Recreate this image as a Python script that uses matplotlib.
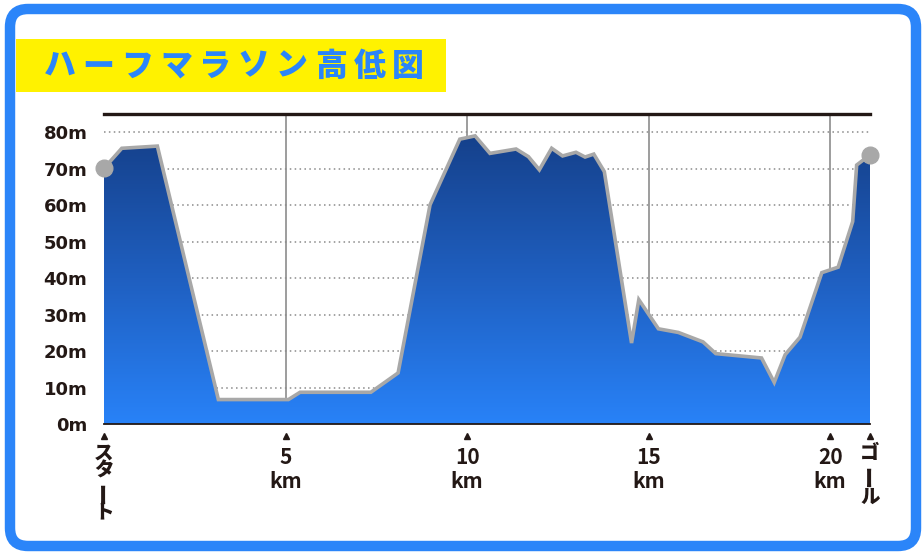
import numpy as np
import matplotlib
matplotlib.use('Agg')
import matplotlib.pyplot as plt
from matplotlib.patches import Polygon, FancyBboxPatch, Rectangle
from matplotlib.colors import LinearSegmentedColormap
from matplotlib.transforms import ScaledTranslation

# course profile
distance_km = [0.0, 0.49, 1.47, 3.15, 5.08, 5.40, 7.35, 8.10, 8.98, 9.80, 10.22,
               10.63, 11.35, 11.69, 11.99, 12.33, 12.63, 13.00, 13.25, 13.49,
               13.78, 14.53, 14.73, 15.27, 15.82, 16.50, 16.85, 18.11, 18.46,
               18.76, 19.17, 19.77, 20.22, 20.62, 20.73, 21.0975]
elevation_m = [70.1, 75.6, 76.2, 6.7, 6.7, 8.7, 8.7, 14.0, 60.1, 78.1, 79.0,
               74.2, 75.4, 73.3, 69.7, 75.6, 73.5, 74.5, 73.2, 74.0,
               69.2, 22.2, 34.1, 26.1, 25.1, 22.5, 19.3, 18.1, 11.4,
               19.0, 23.8, 41.5, 43.0, 55.5, 71.0, 73.8]

km_marks = [5, 10, 15, 20]
y_ticks = [0, 10, 20, 30, 40, 50, 60, 70, 80]
y_labels = [f"{v}m" for v in y_ticks]
title = "ハーフマラソン高低図"
start_label = "スタート"
goal_label = "ゴール"
total_km = 21.0975

BLUE = "#2b85f9"
INK = '#231815'
JP = ['Noto Sans CJK JP', 'DejaVu Sans']

W, H = 924, 554
fig = plt.figure(figsize=(W / 100, H / 100), dpi=100)

# background layer in pixel coords: frame and title
bg = fig.add_axes([0, 0, 1, 1])
bg.set_xlim(0, W)
bg.set_ylim(H, 0)
bg.axis('off')
bg.add_patch(FancyBboxPatch((10, 9), 906, 537, boxstyle="round,pad=0,rounding_size=18",
                            facecolor='white', edgecolor=BLUE, linewidth=7.5))
bg.add_patch(Rectangle((16, 39), 430, 53, facecolor='#fff200', edgecolor='none'))
for i, ch in enumerate(title):
    bg.text(60 + i * 38.7, 66, ch, color=BLUE, fontsize=23, fontweight='heavy',
            family=JP, ha='center', va='center')

# chart
left, right, top, bottom = 104, 870, 114, 424
ax = fig.add_axes([left / W, (H - bottom) / H, (right - left) / W, (bottom - top) / H])
ax.patch.set_visible(False)
for s in ax.spines.values():
    s.set_visible(False)

for y in y_ticks[1:]:
    ax.axhline(y, color='#8a8a8a', lw=1.1, ls=(0, (1, 2.2)), zorder=1)
for x in km_marks:
    ax.plot([x, x], [0, 85], color='#8c8c8c', lw=1.2, zorder=1)

xs = np.array(distance_km)
ys = np.array(elevation_m)
poly = Polygon(np.column_stack([np.r_[xs, total_km, 0], np.r_[ys, 0, 0]]),
               closed=True, facecolor='none', edgecolor='none')
ax.add_patch(poly)
cmap = LinearSegmentedColormap.from_list('elev', ['#2882f8', '#1f5fc0', '#15408a'])
grad = np.linspace(0, 1, 256).reshape(-1, 1)
img = ax.imshow(grad, cmap=cmap, origin='lower', aspect='auto',
                extent=[0, total_km, 0, 80], zorder=2)
img.set_clip_path(poly)
ax.set_xlim(0, total_km)
ax.set_ylim(0, 85)

ax.plot(xs, ys, color='#a8a8a8', lw=2.6, zorder=3, solid_joinstyle='miter')
ax.plot([xs[0], xs[-1]], [ys[0], ys[-1]], 'o', color='#a8a8a8', ms=12,
        zorder=4, clip_on=False)

ax.axhline(85, color=INK, lw=2.4, zorder=5, clip_on=False)
ax.axhline(0, color=INK, lw=1.3, zorder=5, clip_on=False)

ax.set_yticks(y_ticks)
ax.set_yticklabels(y_labels, fontsize=13, fontweight='bold', color=INK)
ax.tick_params(axis='y', length=0, pad=12)
ax.set_xticks([])

# markers and labels under the axis
xt = ax.get_xaxis_transform()
def below(px):
    return xt + ScaledTranslation(0, -px / 100, fig.dpi_scale_trans)

ax.plot([0] + km_marks + [total_km], [0] * 6, '^', color=INK, ms=5,
        transform=below(12), clip_on=False)
for x in km_marks:
    ax.text(x, 0, str(x), transform=below(33), ha='center', va='center',
            fontsize=15, fontweight='bold', family=JP, color=INK)
    ax.text(x, 0, "km", transform=below(57), ha='center', va='center',
            fontsize=15, fontweight='bold', family=JP, color=INK)

def vertical_label(x, text, offsets):
    for ch, off in zip(text, offsets):
        ax.text(x, 0, ch, transform=below(off), ha='center', va='center',
                fontsize=16 if ch == 'ー' else 14, fontweight='heavy', family=JP,
                color=INK, rotation=90 if ch == 'ー' else 0)

vertical_label(0, start_label, [29, 47, 69, 89])
vertical_label(total_km, goal_label, [30, 52, 73])

fig.savefig('out.png', dpi=100)
